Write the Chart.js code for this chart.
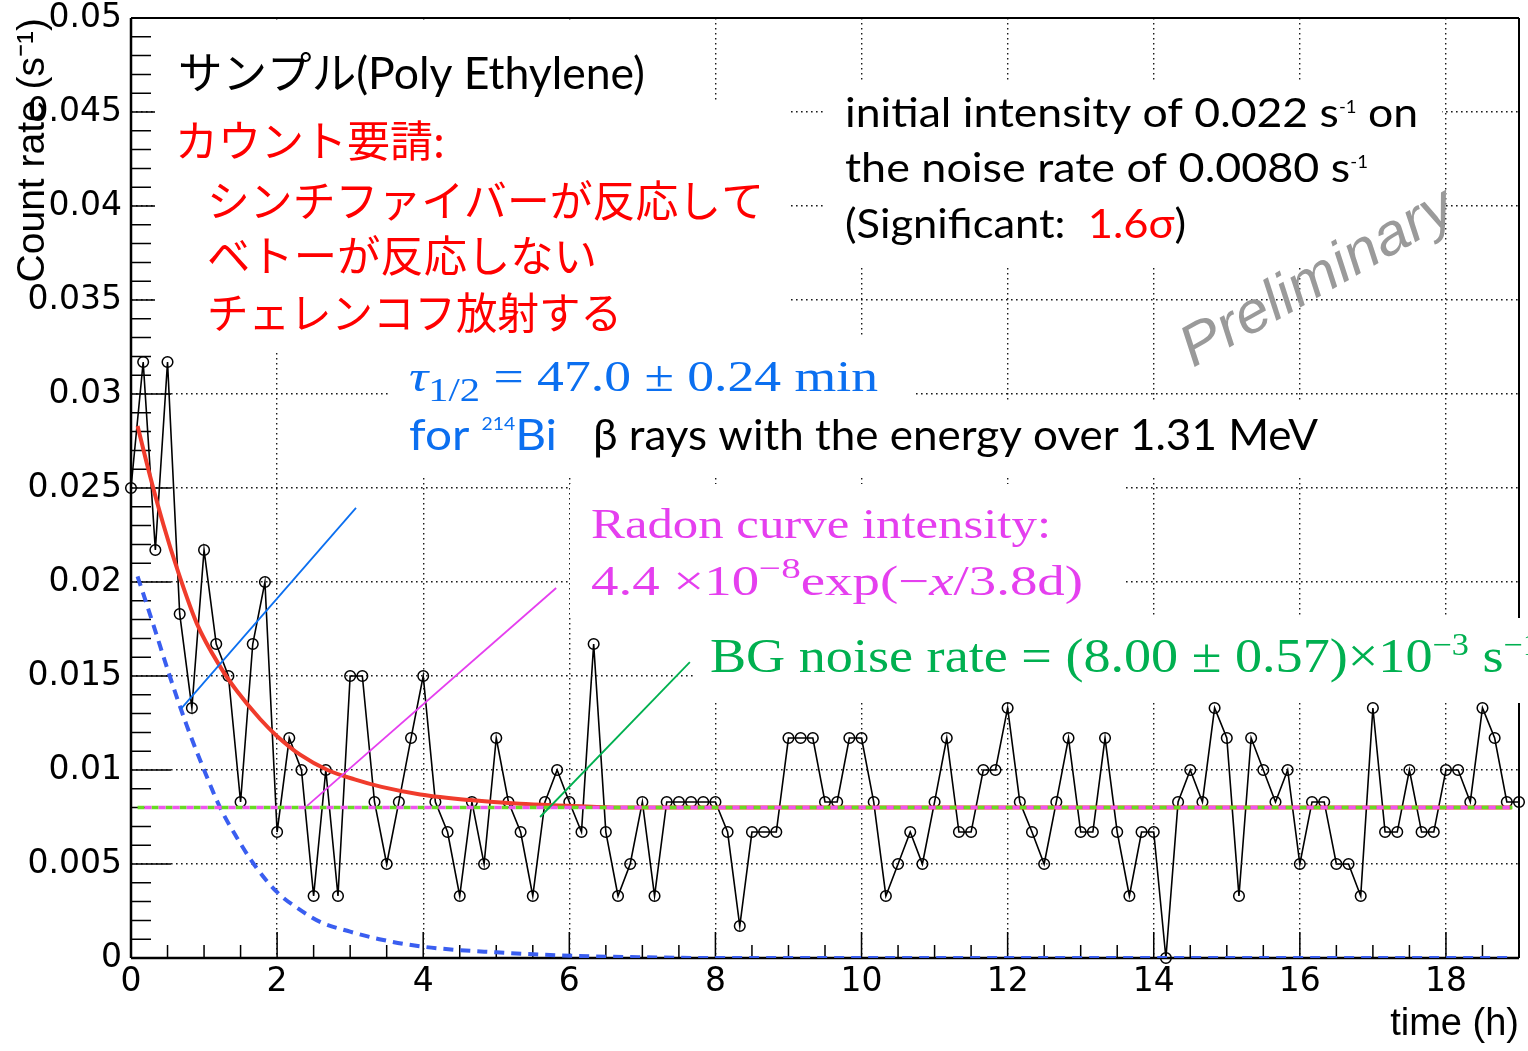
<!DOCTYPE html>
<html>
<head>
<meta charset="utf-8">
<script src="https://cdn.jsdelivr.net/npm/chart.js@4.4.1/dist/chart.umd.min.js"></script>
<style>
html,body{margin:0;padding:0;background:#fff;}
canvas{display:block;}
</style>
</head>
<body>
<canvas id="c" width="1528" height="1051"></canvas>
<script>
// ---- data ----
const binMinutes = [0,10,20,30,40,50,60,70,80,90,100,110,120,130,140,150,160,170,180,190,
  200,210,220,230,240,250,260,270,280,290,300,310,320,330,340,350,360,370,380,390,
  400,410,420,430,440,450,460,470,480,490,500,510,520,530,540,550,560,570,580,590,
  600,610,620,630,640,650,660,670,680,690,700,710,720,730,740,750,760,770,780,790,
  800,810,820,830,840,850,860,870,880,890,900,910,920,930,940,950,960,970,980,990,
  1000,1010,1020,1030,1040,1050,1060,1070,1080,1090,1100,1110,1120,1130,1140];

const countRate = [
  0.0250,0.0317,0.0217,0.0317,0.0183,0.0133,0.0217,0.0167,0.0150,0.0083,
  0.0167,0.0200,0.0067,0.0117,0.0100,0.0033,0.0100,0.0033,0.0150,0.0150,
  0.0083,0.0050,0.0083,0.0117,0.0150,0.0083,0.0067,0.0033,0.0083,0.0050,
  0.0117,0.0083,0.0067,0.0033,0.0083,0.0100,0.0083,0.0067,0.0167,0.0067,
  0.0033,0.0050,0.0083,0.0033,0.0083,0.0083,0.0083,0.0083,0.0083,0.0067,
  0.0017,0.0067,0.0067,0.0067,0.0117,0.0117,0.0117,0.0083,0.0083,0.0117,
  0.0117,0.0083,0.0033,0.0050,0.0067,0.0050,0.0083,0.0117,0.0067,0.0067,
  0.0100,0.0100,0.0133,0.0083,0.0067,0.0050,0.0083,0.0117,0.0067,0.0067,
  0.0117,0.0067,0.0033,0.0067,0.0067,0.0000,0.0083,0.0100,0.0083,0.0133,
  0.0117,0.0033,0.0117,0.0100,0.0083,0.0100,0.0050,0.0083,0.0083,0.0050,
  0.0050,0.0033,0.0133,0.0067,0.0067,0.0100,0.0067,0.0067,0.0100,0.0100,
  0.0083,0.0133,0.0117,0.0083,0.0083];

// fitted curve (red)
const fitTimeH = [0.09,0.25,0.44,0.64,0.9,1.22,1.45,1.77,2.0,2.32,2.69,3.06,3.43,3.96,4.64,5.32,6.0,6.7,8.0,18.9];
const fitRate  = [0.0283,0.0258,0.0231,0.0206,0.0178,0.0155,0.0142,0.0127,0.0118,0.0108,0.0100,0.0095,0.0091,0.0087,0.0084,0.0082,0.0081,0.0080,0.0080,0.0080];

// decay component (blue dashed)
const decayTimeH = [0.09,0.3,0.53,0.76,0.99,1.22,1.45,1.68,2.0,2.3,2.6,3.0,3.4,4.0,5.0,6.0,7.0,8.0,18.9];
const decayRate  = [0.0203,0.0178,0.0150,0.0124,0.0101,0.0080,0.0064,0.0050,0.0035,0.0026,0.0019,0.0014,0.0010,0.0006,0.0003,0.00012,0.00004,0,0];

// background level (green / magenta dashed)
const bgTimeH = [0.09,18.91];
const bgRate  = [0.008,0.008];

const xTickLabels = ["0","2","4","6","8","10","12","14","16","18"];
const yTickLabels = ["0","0.005","0.01","0.015","0.02","0.025","0.03","0.035","0.04","0.045","0.05"];

// ---- styling / annotation layout ----
const RED='#ff0000', BLUE='#0b6ff0', MAG='#e53fef', GRN='#00b050';
const AREA = {left:131, top:18, right:1519, bottom:958};
const whiteBoxes = [
  [155,20,707,100],[155,100,791,352],[388,335,916,400],[388,400,1322,477],
  [570,484,1124,616],[696,618,1528,703],[823,80,1442,265]
];
const pointerTau   = [[0.684,0.01325],[3.08,0.02394]];
const pointerRadon = [[2.41,0.00809],[5.82,0.01968]];
const pointerBg    = [[5.60,0.0075],[7.65,0.01574]];

const pts = (xs, ys) => xs.map((v,i)=>({x:v, y:ys[i]}));

const T = (t, font, color, dy) => ({t, font, color, dy: dy||0});
const CAL = s => s+'px Lato';
const SER = s => s+'px "Liberation Serif"';
const SERI = s => 'italic '+s+'px "Liberation Serif"';
const JP = s => s+'px "Noto Sans CJK JP"';

function drawRuns(ctx, runs, x, y, targetW){
  let w = 0;
  for (const r of runs){ ctx.font = r.font; r.w = ctx.measureText(r.t).width; w += r.w; }
  const sx = targetW ? targetW / w : 1;
  ctx.save();
  ctx.translate(x, y); ctx.scale(sx, 1);
  ctx.textAlign='left'; ctx.textBaseline='alphabetic';
  let cx = 0;
  for (const r of runs){ ctx.font = r.font; ctx.fillStyle = r.color; ctx.fillText(r.t, cx, r.dy); cx += r.w; }
  ctx.restore();
}

const overlay = {
  id:'overlay',
  beforeDatasetsDraw(chart){
    const {ctx, chartArea:a, scales:{x,y}} = chart;
    ctx.save();
    ctx.strokeStyle='#000'; ctx.lineWidth=1.5;
    ctx.beginPath();
    for (let i=0;i<=38;i++){
      const px = x.getPixelForValue(i*0.5);
      const len = (i%4===0)?26:13;
      ctx.moveTo(px,a.bottom); ctx.lineTo(px,a.bottom-len);
    }
    for (let i=0;i<=50;i++){
      const py = y.getPixelForValue(i*0.001);
      const len = (i%5===0)?40:20;
      ctx.moveTo(a.left,py); ctx.lineTo(a.left+len,py);
    }
    ctx.stroke();
    ctx.fillStyle='#fff';
    for (const b of whiteBoxes) ctx.fillRect(b[0],b[1],b[2]-b[0],b[3]-b[1]);
    ctx.strokeStyle='#000';
    ctx.lineWidth=2;
    ctx.beginPath();
    ctx.moveTo(a.left,a.top); ctx.lineTo(a.right,a.top);
    ctx.moveTo(a.right,a.top); ctx.lineTo(a.right,618);
    ctx.moveTo(a.right,703); ctx.lineTo(a.right,a.bottom);
    ctx.stroke();
    ctx.lineWidth=2.5;
    ctx.beginPath(); ctx.moveTo(a.left,a.top); ctx.lineTo(a.left,a.bottom);
    ctx.moveTo(a.left,a.bottom); ctx.lineTo(a.right,a.bottom); ctx.stroke();
    ctx.restore();
  },
  afterDatasetsDraw(chart){
    const {ctx, scales:{x,y}} = chart;
    ctx.save();
    const seg = (p, col) => {
      ctx.strokeStyle=col; ctx.lineWidth=1.8; ctx.setLineDash([]);
      ctx.beginPath();
      ctx.moveTo(x.getPixelForValue(p[0][0]), y.getPixelForValue(p[0][1]));
      ctx.lineTo(x.getPixelForValue(p[1][0]), y.getPixelForValue(p[1][1]));
      ctx.stroke();
    };
    seg(pointerTau, BLUE); seg(pointerRadon, MAG); seg(pointerBg, GRN);

    drawRuns(ctx,[T('サンプル',JP(44),'#000'),T('(Poly Ethylene)',CAL(44),'#000')],178,89,467);
    drawRuns(ctx,[T('カウント要請:',JP(43),RED)],175,157,270);
    drawRuns(ctx,[T('シンチファイバーが反応して',JP(43),RED)],207,217,557);
    drawRuns(ctx,[T('ベトーが反応しない',JP(43),RED)],207,272,390);
    drawRuns(ctx,[T('チェレンコフ放射する',JP(43),RED)],207,329,415);

    drawRuns(ctx,[T('initial intensity of 0.022 s',CAL(41),'#000'),T('-1',CAL(17),'#000',-14),T(' on',CAL(41),'#000')],845,127,573);
    drawRuns(ctx,[T('the noise rate of 0.0080 s',CAL(41),'#000'),T('-1',CAL(17),'#000',-14)],845,182,523);
    drawRuns(ctx,[T('(Significant:  ',CAL(41),'#000'),T('1.6σ',CAL(41),RED),T(')',CAL(41),'#000')],845,238,341);

    drawRuns(ctx,[T('τ',SERI(45),BLUE),T('1/2',SER(34),BLUE,10),T(' = 47.0 ± 0.24 min',SER(45),BLUE)],409,391,469);
    drawRuns(ctx,[T('for ',CAL(42),BLUE),T('214',CAL(17),BLUE,-20),T('Bi',CAL(42),BLUE)],409,450,148);
    drawRuns(ctx,[T('β rays with the energy over 1.31 MeV',CAL(42),'#000')],593,450,725);

    drawRuns(ctx,[T('Radon curve intensity:',SER(42),MAG)],591,538,460);
    drawRuns(ctx,[T('4.4 ×10',SER(42),MAG),T('−8',SER(30),MAG,-17),T('exp(−',SER(42),MAG),T('x',SERI(42),MAG),T('/3.8d)',SER(42),MAG)],591,595,492);

    drawRuns(ctx,[T('BG noise rate = (8.00 ± 0.57)×10',SER(49),GRN),T('−3',SER(31),GRN,-17),T(' s',SER(49),GRN),T('−1',SER(31),GRN,-17)],710,672,830);

    // watermark
    ctx.save();
    ctx.translate(1193,368);
    ctx.rotate(-29.5*Math.PI/180);
    ctx.font='italic 58px "Liberation Sans"';
    const ww = ctx.measureText('Preliminary').width;
    ctx.scale(305/ww,1);
    ctx.fillStyle='#9a9a9a';
    ctx.textBaseline='alphabetic';
    ctx.fillText('Preliminary',0,0);
    ctx.restore();
    ctx.restore();
  }
};

const measured = pts(binMinutes.map(m=>m/60), countRate);

const opts = {
  responsive:false, animation:false, devicePixelRatio:1,
  layout:{padding:{left:0,right:9,top:18,bottom:0}},
  plugins:{legend:{display:false}, tooltip:{enabled:false}},
  scales:{
    x:{type:'linear', min:0, max:19,
      afterFit(s){ s.height=93; s.paddingLeft=0; s.paddingRight=0; },
      ticks:{stepSize:2, includeBounds:false, autoSkip:false, maxRotation:0, minRotation:0, padding:8,
        color:'#000', font:{family:'DejaVu Sans', size:33, lineHeight:1},
        callback:(v)=>xTickLabels[Math.round(v/2)]},
      grid:{color:'rgba(0,0,0,0.9)', lineWidth:1.4, drawTicks:false},
      border:{display:false, dash:[1.6,3.4]},
      title:{display:true, text:'time (h)', align:'end', color:'#000',
        font:{family:'Liberation Sans', size:38}, padding:{top:0,bottom:4}}
    },
    y:{type:'linear', min:0, max:0.05,
      afterFit(s){ s.width=131; s.paddingTop=0; s.paddingBottom=0; },
      ticks:{stepSize:0.005, includeBounds:false, autoSkip:false, padding:9,
        color:'#000', font:{family:'DejaVu Sans', size:33, lineHeight:1},
        callback:(v)=>yTickLabels[Math.round(v/0.005)]},
      grid:{color:'rgba(0,0,0,0.9)', lineWidth:1.4, drawTicks:false},
      border:{display:false, dash:[1.6,3.4]},
      title:{display:true, text:'Count rate (s⁻¹)', align:'end', color:'#000',
        font:{family:'Liberation Sans', size:39}, padding:{top:10,bottom:4}}
    }
  }
};

const chart = new Chart(document.getElementById('c').getContext('2d'), {
  type:'line',
  data:{ datasets:[
    {label:'data', data:measured, borderColor:'#000', borderWidth:1.6, pointRadius:5.3,
     pointBorderWidth:1.5, pointBorderColor:'#000', pointBackgroundColor:'rgba(0,0,0,0)',
     fill:false, tension:0, clip:false, order:4},
    {label:'fit', data:pts(fitTimeH,fitRate), borderColor:'#f03c2c', borderWidth:4, pointRadius:0,
     cubicInterpolationMode:'monotone', fill:false, order:3},
    {label:'decay', data:pts(decayTimeH,decayRate), borderColor:'#3a5ef0', borderWidth:4, borderDash:[10,7],
     pointRadius:0, cubicInterpolationMode:'monotone', fill:false, order:2},
    {label:'bgGreen', data:pts(bgTimeH,bgRate), borderColor:'#66dd22', borderWidth:3.5, borderDash:[7,7],
     pointRadius:0, fill:false, order:1},
    {label:'bgMagenta', data:pts(bgTimeH,bgRate), borderColor:'#ee55ee', borderWidth:3.5, borderDash:[7,7],
     borderDashOffset:7, pointRadius:0, fill:false, order:0}
  ]},
  options:opts,
  plugins:[overlay]
});

// pin the plotting area to the reference frame
for (let k=0;k<4;k++){
  const ca = chart.chartArea, p = opts.layout.padding;
  const dt = ca.top-AREA.top, db = AREA.bottom-ca.bottom, dl = ca.left-AREA.left, dr = AREA.right-ca.right;
  if (Math.abs(dt)<0.5 && Math.abs(db)<0.5 && Math.abs(dl)<0.5 && Math.abs(dr)<0.5) break;
  p.top = Math.max(0, p.top-dt); p.bottom = Math.max(0, p.bottom-db);
  p.left = Math.max(0, p.left-dl); p.right = Math.max(0, p.right-dr);
  chart.options.layout.padding = {left:p.left, right:p.right, top:p.top, bottom:p.bottom};
  chart.update('none');
}
</script>
</body>
</html>
